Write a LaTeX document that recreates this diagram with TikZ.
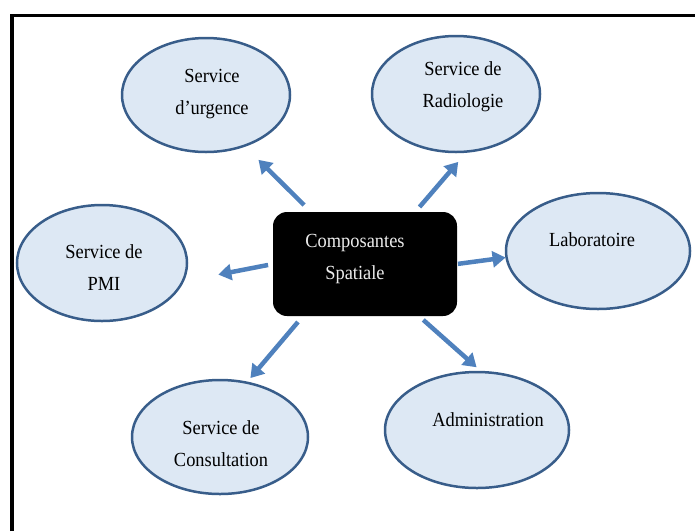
\documentclass[tikz,border=0pt]{standalone}
\usepackage{fontspec}
\setmainfont{Liberation Serif}[FakeStretch=0.92]
\usetikzlibrary{arrows.meta,shapes.geometric}
\definecolor{ovalfill}{RGB}{221,232,244}
\definecolor{ovaledge}{RGB}{56,93,138}
\definecolor{arrowblue}{RGB}{79,129,189}
\definecolor{boxtext}{RGB}{236,236,236}

\begin{document}
\begin{tikzpicture}[x=1pt,y=-1pt,
  oval/.style={ellipse,draw=ovaledge,fill=ovalfill,line width=2.5pt,inner sep=0pt,outer sep=0pt},
  caption/.style={font=\fontsize{20}{32}\selectfont,align=center,inner sep=0pt},
  core/.style={rectangle,rounded corners=14pt,fill=black,minimum width=184pt,minimum height=104pt,inner sep=0pt,outer sep=0pt},
  link/.style={draw=arrowblue,line width=4.5pt,-{Triangle[length=13pt,width=16pt]}},
]
\useasboundingbox (0,0) rectangle (695,531);

% frame (top and left edges)
\draw[line width=3.5pt] (12,531) -- (12,15.3) -- (695,15.3);

% central block
\node[core] (hub) at (365,264) {};
\node[caption,text=boxtext] (hubtxt) at (355,259) {Composantes\\Spatiale};

% surrounding ovals
\node[oval,minimum width=168pt,minimum height=114pt] (urg) at (206,95) {};
\node[caption] (urgtxt) at (212,94) {Service\\d’urgence};

\node[oval,minimum width=168pt,minimum height=116pt] (rad) at (456,94) {};
\node[caption] (radtxt) at (463,87) {Service de\\Radiologie};

\node[oval,minimum width=184pt,minimum height=116pt] (lab) at (598,251) {};
\node[caption] (labtxt) at (592,240) {Laboratoire};

\node[oval,minimum width=170pt,minimum height=116pt] (pmi) at (102,263) {};
\node[caption] (pmitxt) at (104,268) {Service de\\PMI};

\node[oval,minimum width=176pt,minimum height=114pt] (con) at (220,437) {};
\node[caption] (context) at (221,444) {Service de\\Consultation};

\node[oval,minimum width=184pt,minimum height=116pt] (adm) at (477,430) {};
\node[caption] (admtxt) at (488,420) {Administration};

% arrows from the central block
\draw[link,shorten <=10pt,shorten >=20pt] (hub.136.6) -- (urg.-53);
\draw[link,shorten <=6.6pt,shorten >=13.7pt] (hub.46.9) -- (rad.-79);
\draw[link,shorten <=1pt,shorten >=1pt] (hub.-0.7) -- (lab.-176.3);
\draw[link,shorten <=5pt,shorten >=36.5pt] (hub.180) -- (pmi.-13.5);
\draw[link,shorten <=7.8pt,shorten >=6pt] (hub.-140.9) -- (con.64.3);
\draw[link,shorten <=5.9pt,shorten >=7.3pt] (hub.-44.6) -- (adm.85.7);
\end{tikzpicture}
\end{document}
